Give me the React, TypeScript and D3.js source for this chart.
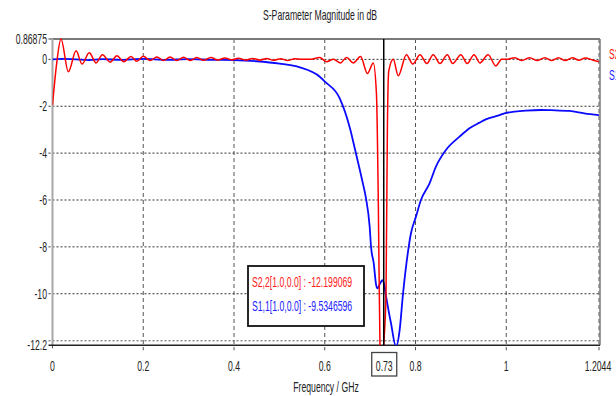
import React from "react";
import * as d3 from "d3";

const redFreq = [0,0.009,0.0187,0.035,0.052,0.065,0.081,0.096,0.110,0.127,0.142,0.157,0.173,0.186,0.200,0.215,0.230,0.245,0.259,0.274,0.289,0.303,0.318,0.333,0.349,0.364,0.380,0.395,0.410,0.426,0.441,0.457,0.472,0.487,0.503,0.518,0.534,0.549,0.567,0.589,0.604,0.619,0.635,0.648,0.663,0.679,0.694,0.707,0.714,0.718,0.722,0.727,0.73,0.735,0.738,0.741,0.751,0.762,0.780,0.794,0.810,0.825,0.839,0.854,0.870,0.882,0.900,0.914,0.929,0.942,0.960,0.977,0.99,1.0,1.019,1.034,1.052,1.068,1.085,1.1,1.115,1.13,1.146,1.16,1.174,1.19,1.2044];
const redDb = [-1.95,-0.2,0.86875,-0.53,0.37,-0.2,0.28,-0.15,0.2,-0.12,0.15,-0.1,0.12,-0.08,0.13,-0.05,0.1,-0.05,0.1,-0.05,0.09,-0.05,0.08,-0.04,0.08,-0.03,0.06,-0.02,0.05,-0.03,0.04,-0.03,0.04,-0.04,0.03,-0.05,0.03,0.0,0.0,0.08,-0.1,0.0,-0.15,0.08,-0.15,0.12,-0.6,-0.15,-1.5,-6,-12.6,-13.5,-12.199069,-10,-3,-0.5,0.0,-0.7,0.2,-0.2,0.2,-0.18,0.2,-0.18,0.2,-0.18,0.2,-0.18,0.2,-0.15,0.2,-0.28,0.0,0.0,0.07,-0.05,0.07,-0.05,0.07,-0.05,0.07,-0.05,0.07,-0.04,0.06,-0.03,-0.1];

const blueFreq = [0,0.02,0.05,0.08,0.11,0.15,0.2,0.25,0.3,0.35,0.4,0.45,0.5,0.545,0.589,0.601,0.633,0.656,0.667,0.684,0.691,0.699,0.702,0.708,0.713,0.716,0.721,0.727,0.73,0.735,0.746,0.757,0.765,0.772,0.781,0.79,0.801,0.812,0.831,0.845,0.867,0.897,0.919,0.941,0.955,0.985,0.996,1.043,1.076,1.1,1.139,1.172,1.2044];
const blueDb = [0,0.02,0.0,-0.03,0.01,-0.02,0.02,-0.02,0.01,-0.02,-0.03,-0.08,-0.18,-0.34,-0.74,-0.96,-1.66,-2.97,-3.87,-5.29,-5.94,-7.14,-8.0,-8.7,-9.6,-9.77,-9.6,-9.42,-9.5346596,-10.1,-11.26,-12.25,-11.56,-10.1,-8.56,-7.42,-6.71,-6.0,-5.29,-4.58,-3.87,-3.3,-2.94,-2.7,-2.56,-2.38,-2.3,-2.19,-2.16,-2.17,-2.2,-2.3,-2.38];

const xTicks = [0, 0.2, 0.4, 0.6, 0.8, 1, 1.2044];
const xTickLabels = ["0", "0.2", "0.4", "0.6", "0.8", "1", "1.2044"];
const yTicks = [0.86875, 0, -2, -4, -6, -8, -10, -12.2];
const yTickLabels = ["0.86875", "0", "-2", "-4", "-6", "-8", "-10", "-12.2"];
const yGrid = [0, -2, -4, -6, -8, -10];
const markerFreq = 0.73;
const markerLabel = "0.73";
const title = "S-Parameter Magnitude in dB";
const xTitle = "Frequency / GHz";
const redName = "S2,2";
const blueName = "S1,1";
const redAnnot = "S2,2[1.0,0.0] : -12.199069";
const blueAnnot = "S1,1[1.0,0.0] : -9.5346596";

const W = 616, H = 396;
const L = 52.5, R = 599, T = 39, B = 345.3;
const SX = 0.62;
const FONT = "'Liberation Sans', Arial, sans-serif";

function T_({ x, y, anchor = "start", fill = "#222", size = 14, children }: any) {
  return (
    <text
      transform={`translate(${x},${y}) scale(${SX},1)`}
      textAnchor={anchor}
      fill={fill}
      fontSize={size}
      fontFamily={FONT}
    >
      {children}
    </text>
  );
}

export default function App() {
  const x = d3.scaleLinear().domain([0, 1.2044]).range([L, R]);
  const y = d3.scaleLinear().domain([-12.2, 0.86875]).range([B, T]);
  const line = d3.line<[number, number]>().x(d => x(d[0])).y(d => y(d[1])).curve(d3.curveMonotoneX);
  const red = redFreq.map((f, i) => [f, redDb[i]] as [number, number]);
  const blue = blueFreq.map((f, i) => [f, blueDb[i]] as [number, number]);
  const mx = x(markerFreq);

  return (
    <svg width={W} height={H} style={{ position: "absolute", left: 0, top: 0, background: "#fff" }}>
      <defs>
        <clipPath id="plot">
          <rect x={L} y={T - 1} width={R - L} height={B - T + 1} />
        </clipPath>
      </defs>
      <rect x={0} y={0} width={W} height={H} fill="#fff" />
      <T_ x={320} y={20} anchor="middle">{title}</T_>

      {/* grid */}
      {xTicks.slice(1).map((t, i) => (
        <line key={"vx" + i} x1={x(t)} x2={x(t)} y1={T} y2={B + 5} stroke="#555" strokeWidth={1} strokeDasharray="4,3" />
      ))}
      {yGrid.map((t, i) => (
        <line key={"hy" + i} x1={L - 4} x2={R} y1={y(t)} y2={y(t)} stroke="#333" strokeWidth={1} strokeDasharray="2,2" />
      ))}
      <line x1={L - 4} x2={R} y1={B - 4.5} y2={B - 4.5} stroke="#555" strokeWidth={1} strokeDasharray="2,2" />
      <line x1={L - 4} x2={L} y1={y(0.86875)} y2={y(0.86875)} stroke="#333" strokeWidth={1} />
      <line x1={L} x2={L} y1={B} y2={B + 5} stroke="#555" strokeWidth={1} strokeDasharray="3,2" />

      {/* frame */}
      <line x1={L} x2={R + 1} y1={T} y2={T} stroke="#7a7a7a" strokeWidth={2} />
      <line x1={R + 1} x2={R + 1} y1={T} y2={B} stroke="#7a7a7a" strokeWidth={1.5} />
      <line x1={L} x2={L} y1={T} y2={B} stroke="#a8a8a8" strokeWidth={2} />
      <line x1={L - 4} x2={R + 1} y1={B} y2={B} stroke="#222" strokeWidth={1.5} />

      {/* curves */}
      <g clipPath="url(#plot)">
        <path d={line(blue) || ""} fill="none" stroke="#0a0aff" strokeWidth={1.8} strokeLinejoin="round" />
        <path d={line(red) || ""} fill="none" stroke="#ff0000" strokeWidth={1.5} strokeLinejoin="round" />
      </g>

      {/* marker */}
      <line x1={mx} x2={mx} y1={T} y2={B} stroke="#000" strokeWidth={1.5} />

      {/* annotation */}
      <rect x={248} y={266} width={116} height={60} fill="#fff" stroke="#111" strokeWidth={1.8} />
      <T_ x={252} y={287} fill="#ff2020">{redAnnot}</T_>
      <T_ x={252} y={311} fill="#2020ff">{blueAnnot}</T_>

      {/* y labels */}
      {yTicks.map((t, i) => (
        <T_ key={"yl" + i} x={47} y={y(t) + 5} anchor="end">{yTickLabels[i]}</T_>
      ))}
      {/* x labels */}
      {xTicks.map((t, i) => (
        <T_ key={"xl" + i} x={x(t) + (i === xTicks.length - 1 ? -1 : 0)} y={371} anchor="middle">{xTickLabels[i]}</T_>
      ))}
      <rect x={mx - 12} y={352.5} width={25} height={23.5} fill="#fff" stroke="#444" strokeWidth={1.3} />
      <T_ x={mx + 0.5} y={371} anchor="middle">{markerLabel}</T_>
      <T_ x={326} y={392} anchor="middle">{xTitle}</T_>

      {/* legend (clipped at the window edge, as in the reference) */}
      <T_ x={609} y={59} fill="#ff2020">{redName}</T_>
      <T_ x={609} y={80} fill="#2020ff">{blueName}</T_>
    </svg>
  );
}
